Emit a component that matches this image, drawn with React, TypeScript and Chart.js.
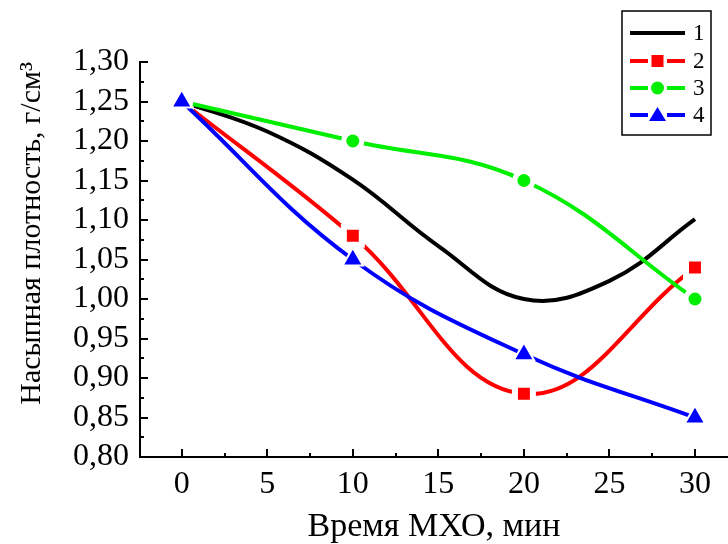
import React, { useEffect, useRef } from 'react';
import { Chart, registerables } from 'chart.js';

Chart.register(...registerables);

// ---- data ----
const markerTimes = [0, 10, 20, 30];
const curve1Times = [0, 5, 10, 15, 20, 25, 30];
const series1 = [1.25, 1.212, 1.151, 1.067, 1.0, 1.023, 1.101];
const series2 = [1.25, 1.08, 0.88, 1.04];
const series3 = [1.25, 1.2, 1.15, 1.0];
const series4 = [1.25, 1.05, 0.93, 0.85];
const seriesLabels = ['1', '2', '3', '4'];
const xTickValues = [0, 5, 10, 15, 20, 25, 30];
const yTickValues = [0.8, 0.85, 0.9, 0.95, 1.0, 1.05, 1.1, 1.15, 1.2, 1.25, 1.3];
const xTitle = 'Время МХО, мин';
const yTitle = 'Насыпная плотность, г/см³';

const FONT = "'Liberation Serif', 'Times New Roman', serif";

const toPoints = (xs: number[], ys: number[]) => xs.map((x, i) => ({ x, y: ys[i] }));

const midpoints = (arr: number[]) => arr.slice(0, -1).map((v, i) => (v + arr[i + 1]) / 2);

const inwardTicks = {
  id: 'inwardTicks',
  afterDatasetsDraw(chart: any) {
    const { ctx, chartArea, scales } = chart;
    const x = scales.x;
    const y = scales.y;
    ctx.save();
    ctx.strokeStyle = '#000';
    ctx.lineWidth = 2;
    const drawX = (v: number, len: number) => {
      const px = Math.round(x.getPixelForValue(v));
      ctx.beginPath();
      ctx.moveTo(px, chartArea.bottom);
      ctx.lineTo(px, chartArea.bottom - len);
      ctx.stroke();
    };
    const drawY = (v: number, len: number) => {
      const py = Math.round(y.getPixelForValue(v));
      ctx.beginPath();
      ctx.moveTo(chartArea.left, py);
      ctx.lineTo(chartArea.left + len, py);
      ctx.stroke();
    };
    xTickValues.forEach((v) => drawX(v, 8));
    midpoints(xTickValues).forEach((v) => drawX(v, 4));
    yTickValues.forEach((v) => drawY(v, 8));
    midpoints(yTickValues).forEach((v) => drawY(v, 4));
    ctx.restore();
  },
};

const boxLegend = {
  id: 'boxLegend',
  afterDraw(chart: any) {
    const { ctx } = chart;
    const bx = 622, by = 11, bw = 89, bh = 124;
    const rows = [33, 61, 88, 115];
    ctx.save();
    ctx.fillStyle = '#fff';
    ctx.fillRect(bx, by, bw, bh);
    ctx.strokeStyle = '#000';
    ctx.lineWidth = 1.5;
    ctx.strokeRect(bx, by, bw, bh);
    seriesLabels.forEach((lab, i) => {
      const ds = chart.data.datasets[i];
      const yy = rows[i];
      ctx.strokeStyle = ds.borderColor;
      ctx.lineWidth = 4;
      ctx.beginPath();
      if (ds.legendMarker === 'none') {
        ctx.moveTo(630, yy);
        ctx.lineTo(685, yy);
      } else {
        ctx.moveTo(630, yy);
        ctx.lineTo(648, yy);
        ctx.moveTo(667, yy);
        ctx.lineTo(685, yy);
      }
      ctx.stroke();
      ctx.fillStyle = ds.borderColor;
      const cx = 657.5;
      if (ds.legendMarker === 'rect') {
        ctx.fillRect(cx - 6, yy - 6, 12, 12);
      } else if (ds.legendMarker === 'circle') {
        ctx.beginPath();
        ctx.arc(cx, yy, 6.5, 0, Math.PI * 2);
        ctx.fill();
      } else if (ds.legendMarker === 'triangle') {
        ctx.beginPath();
        ctx.moveTo(cx, yy - 8);
        ctx.lineTo(cx + 8.5, yy + 6);
        ctx.lineTo(cx - 8.5, yy + 6);
        ctx.closePath();
        ctx.fill();
      }
      ctx.fillStyle = '#000';
      ctx.font = `23px ${FONT}`;
      ctx.textAlign = 'left';
      ctx.textBaseline = 'middle';
      ctx.fillText(lab, 693, yy + 1);
    });
    ctx.restore();
  },
};

export default function App() {
  const canvasRef = useRef<HTMLCanvasElement | null>(null);

  useEffect(() => {
    document.body.style.margin = '0';
    const canvas = canvasRef.current;
    if (!canvas) return;
    const common = {
      showLine: true,
      borderWidth: 4,
      tension: 0.4,
      pointBorderColor: '#fff',
      pointHoverRadius: 0,
    };
    const chart = new Chart(canvas, {
      type: 'line',
      data: {
        datasets: [
          {
            ...common,
            label: seriesLabels[0],
            data: toPoints(curve1Times, series1),
            borderColor: '#000000',
            backgroundColor: '#000000',
            pointRadius: 0,
            order: 3,
            legendMarker: 'none',
          } as any,
          {
            ...common,
            label: seriesLabels[1],
            data: toPoints(markerTimes, series2),
            borderColor: '#ff0000',
            backgroundColor: '#ff0000',
            pointBackgroundColor: '#ff0000',
            pointStyle: 'rect',
            pointRadius: 12.7,
            pointBorderWidth: 6,
            order: 2,
            legendMarker: 'rect',
          } as any,
          {
            ...common,
            label: seriesLabels[2],
            data: toPoints(markerTimes, series3),
            borderColor: '#00ee00',
            backgroundColor: '#00ee00',
            pointBackgroundColor: '#00ee00',
            pointStyle: 'circle',
            pointRadius: 9,
            pointBorderWidth: 5,
            order: 1,
            legendMarker: 'circle',
          } as any,
          {
            ...common,
            label: seriesLabels[3],
            data: toPoints(markerTimes, series4),
            borderColor: '#0000ff',
            backgroundColor: '#0000ff',
            pointBackgroundColor: '#0000ff',
            pointStyle: 'triangle',
            pointRadius: 11.8,
            pointBorderWidth: 2,
            order: 0,
            legendMarker: 'triangle',
          } as any,
        ],
      },
      options: {
        responsive: false,
        animation: false,
        events: [],
        layout: { autoPadding: false, padding: { top: 62, right: 0, left: 0, bottom: 0 } },
        plugins: {
          legend: { display: false },
          tooltip: { enabled: false },
        },
        scales: {
          x: {
            type: 'linear',
            min: -2.44,
            max: 31.93,
            afterBuildTicks: (scale: any) => {
              scale.ticks = xTickValues.map((v) => ({ value: v }));
            },
            afterFit: (scale: any) => {
              scale.height = 87;
              scale.paddingLeft = 0;
              scale.paddingRight = 0;
            },
            grid: { display: false, drawTicks: false },
            border: { display: true, color: '#000', width: 2 },
            ticks: {
              color: '#000',
              font: { family: FONT, size: 32 },
              padding: 8,
              maxRotation: 0,
              autoSkip: false,
            },
            title: {
              display: true,
              text: xTitle,
              color: '#000',
              font: { family: FONT, size: 34, lineHeight: 1 },
              padding: { top: 0, bottom: 0 },
            },
          },
          y: {
            type: 'linear',
            min: 0.8,
            max: 1.3,
            afterBuildTicks: (scale: any) => {
              scale.ticks = yTickValues.map((v) => ({ value: v }));
            },
            afterFit: (scale: any) => {
              scale.width = 140;
            },
            grid: { display: false, drawTicks: false },
            border: { display: true, color: '#000', width: 2 },
            ticks: {
              color: '#000',
              font: { family: FONT, size: 32 },
              padding: 11,
              autoSkip: false,
              callback: (v: any) => Number(v).toFixed(2).replace('.', ','),
            },
            title: {
              display: true,
              text: yTitle,
              align: 'end',
              color: '#000',
              font: { family: FONT, size: 30 },
              padding: { top: 14, bottom: 0 },
            },
          },
        },
      },
      plugins: [inwardTicks, boxLegend],
    } as any);
    return () => chart.destroy();
  }, []);

  return (
    <div style={{ width: 728, height: 544, background: '#fff' }}>
      <canvas ref={canvasRef} width={728} height={544} />
    </div>
  );
}
